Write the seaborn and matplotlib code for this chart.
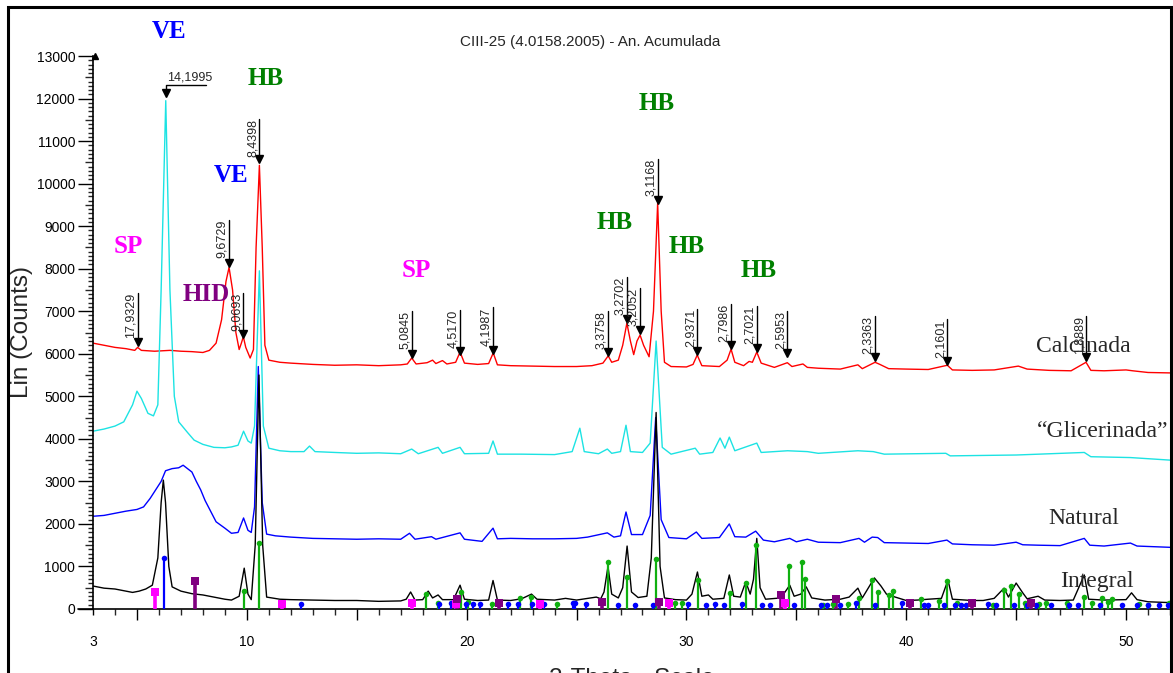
import numpy as np
import pandas as pd
import matplotlib
matplotlib.use("Agg")
import matplotlib.pyplot as plt
from matplotlib.ticker import MultipleLocator, FixedLocator, FixedFormatter
from matplotlib.patches import Rectangle
import seaborn as sns

# ---------------- data ----------------
title = "CIII-25 (4.0158.2005) - An. Acumulada"
x_label = "2-Theta - Scale"
y_label = "Lin (Counts)"

calc_x = [3.0, 3.5, 4.0, 4.5, 4.9, 5.03, 5.2, 5.8, 6.5, 7.0, 7.5, 8.0, 8.3, 8.6, 8.85, 9.05, 9.19, 9.35, 9.5, 9.65,
          9.75, 9.84, 9.95, 10.15, 10.3, 10.42, 10.57, 10.7, 10.82, 11.0, 11.5, 12.0, 13.0, 14.0, 15.0, 16.0, 17.0,
          17.3, 17.5, 17.7, 18.2, 18.45, 18.6, 18.9, 19.1, 19.5, 19.7, 19.9, 20.5, 21.0, 21.21, 21.4, 22.0, 23.0,
          24.0, 25.0, 25.7, 26.2, 26.44, 26.6, 26.9, 27.1, 27.29, 27.45, 27.6, 27.75, 27.89, 28.05, 28.3, 28.5,
          28.69, 28.85, 29.0, 29.3, 30.0, 30.3, 30.49, 30.7, 31.5, 31.85, 32.03, 32.2, 32.6, 32.85, 33.0, 33.2,
          33.4, 34.0, 34.59, 34.8, 35.3, 35.5, 36.0, 37.0, 37.8, 38.0, 38.58, 38.8, 39.2, 40.0, 41.0, 41.87, 42.1,
          43.0, 44.0, 45.1, 45.5, 46.5, 47.5, 48.18, 48.4, 49.0, 50.0, 50.3, 51.0, 52.0]
calc_y = [6250, 6200, 6150, 6120, 6080, 6150, 6080, 6060, 6080, 6060, 6050, 6030, 6080, 6250, 6800, 7700, 8030, 7500,
          6500, 6100, 6250, 6400, 6150, 5900, 6100, 8500, 10430, 8500, 6200, 5850, 5800, 5780, 5750, 5730, 5740,
          5720, 5740, 5760, 5900, 5760, 5790, 5850, 5770, 5840, 5760, 5800, 6040, 5780, 5750, 5770, 6020, 5740,
          5720, 5710, 5700, 5700, 5720, 5780, 5950, 5800, 5850, 6200, 6720, 6300, 5980, 6300, 6440, 6200, 5930,
          7000, 9540, 7000, 5800, 5700, 5690, 5750, 5970, 5720, 5700, 5850, 6110, 5800, 5720, 5820, 5800, 6040,
          5780, 5680, 5790, 5700, 5760, 5680, 5660, 5640, 5740, 5650, 5800, 5750, 5650, 5640, 5630, 5730, 5620,
          5610, 5620, 5710, 5640, 5610, 5600, 5800, 5610, 5600, 5620, 5600, 5560, 5550]

glic_x = [3.0, 3.5, 4.0, 4.4, 4.8, 5.0, 5.2, 5.5, 5.75, 5.95, 6.1, 6.31, 6.5, 6.7, 6.9, 7.3, 7.6, 8.0, 8.5, 9.0, 9.3,
          9.6, 9.85, 10.05, 10.2, 10.35, 10.57, 10.75, 11.0, 11.5, 12.0, 12.6, 12.85, 13.1, 14.0, 15.0, 16.0, 17.0,
          17.5, 17.8, 18.7, 18.9, 19.7, 19.9, 21.0, 21.2, 21.4, 22.5, 24.0, 24.8, 25.15, 25.35, 26.0, 26.4, 26.6,
          27.0, 27.25, 27.45, 28.0, 28.35, 28.62, 28.9, 29.3, 30.4, 30.6, 31.2, 31.53, 31.75, 31.95, 32.2, 33.2,
          33.4, 34.6, 35.5, 36.0, 37.8, 38.5, 39.0, 41.8, 42.0, 45.0, 48.1, 48.4, 50.2, 52.0]
glic_y = [4180, 4230, 4300, 4400, 4800, 5120, 4950, 4600, 4540, 4800, 7500, 11950, 7500, 5000, 4400, 4150, 3970, 3870,
          3800, 3790, 3810, 3850, 4180, 3950, 3900, 4300, 7950, 4300, 3780, 3720, 3700, 3700, 3830, 3700, 3680,
          3660, 3670, 3650, 3760, 3650, 3800, 3660, 3800, 3650, 3660, 3950, 3640, 3640, 3630, 3700, 4250, 3700,
          3650, 3760, 3660, 3700, 4320, 3700, 3680, 3900, 6300, 3800, 3640, 3780, 3640, 3680, 4020, 3780, 4040,
          3720, 3900, 3680, 3720, 3700, 3660, 3720, 3700, 3640, 3660, 3600, 3620, 3680, 3580, 3560, 3500]

nat_x = [3.0, 3.5, 4.0, 4.5, 5.0, 5.3, 5.6, 5.85, 6.1, 6.3, 6.6, 6.9, 7.1, 7.3, 7.5, 7.7, 7.9, 8.1, 8.3, 8.6, 9.0,
         9.3, 9.6, 9.85, 10.05, 10.2, 10.35, 10.52, 10.7, 10.9, 11.3, 12.0, 13.0, 14.0, 15.0, 16.0, 17.0, 17.4,
         17.65, 18.4, 18.6, 19.7, 19.9, 20.7, 21.2, 21.4, 22.0, 23.0, 24.0, 25.0, 25.5, 26.4, 26.7, 27.0, 27.25,
         27.5, 28.0, 28.35, 28.6, 28.85, 29.2, 30.0, 30.45, 30.7, 31.5, 31.95, 32.2, 32.7, 33.15, 33.5, 34.0,
         34.7, 35.0, 35.5, 36.0, 37.0, 37.85, 38.1, 38.45, 38.7, 39.0, 40.0, 41.0, 41.85, 42.1, 43.0, 44.0, 45.0,
         45.3, 46.0, 47.0, 48.1, 48.35, 49.0, 50.2, 50.5, 51.0, 52.0]
nat_y = [2180, 2200, 2250, 2300, 2340, 2400, 2600, 2800, 3000, 3250, 3300, 3320, 3380, 3300, 3220, 3000, 2800, 2550,
         2350, 2050, 1900, 1780, 1800, 2140, 1850, 1800, 2400, 5700, 2500, 1760, 1720, 1690, 1660, 1650, 1640,
         1650, 1640, 1780, 1640, 1700, 1640, 1790, 1640, 1590, 1900, 1650, 1660, 1650, 1650, 1660, 1690, 1790,
         1690, 1720, 2280, 1750, 1750, 2200, 4500, 2100, 1680, 1650, 1810, 1660, 1680, 2000, 1700, 1690, 1830,
         1620, 1580, 1660, 1580, 1640, 1570, 1560, 1660, 1570, 1690, 1680, 1560, 1550, 1540, 1620, 1530, 1510,
         1500, 1570, 1510, 1500, 1490, 1660, 1500, 1480, 1550, 1480, 1470, 1450]

int_x = [3.0, 3.5, 4.0, 4.5, 4.8, 5.1, 5.4, 5.7, 5.95, 6.1, 6.2, 6.3, 6.45, 6.6, 7.0, 7.5, 8.0, 8.5, 9.0, 9.3, 9.65,
         9.88, 10.05, 10.2, 10.38, 10.55, 10.72, 10.9, 11.5, 12.0, 13.0, 14.0, 15.0, 16.0, 17.0, 17.25, 17.45,
         17.65, 18.0, 18.25, 18.45, 18.7, 18.9, 19.4, 19.7, 19.9, 20.5, 21.0, 21.2, 21.4, 22.0, 22.5, 22.95, 23.2,
         24.0, 24.5, 25.0, 25.9, 26.1, 26.25, 26.43, 26.6, 26.9, 27.1, 27.3, 27.5, 27.8, 28.2, 28.4, 28.62, 28.8,
         29.0, 29.5, 30.0, 30.25, 30.5, 30.7, 31.0, 31.2, 31.7, 31.95, 32.15, 32.45, 32.7, 32.9, 33.05, 33.2,
         33.35, 33.6, 34.3, 34.7, 34.9, 35.2, 35.45, 35.7, 36.3, 37.0, 37.4, 37.8, 38.0, 38.4, 38.55, 38.85, 39.1,
         39.5, 40.0, 40.5, 41.0, 41.6, 41.9, 42.1, 43.0, 43.5, 44.0, 44.45, 44.65, 45.0, 45.3, 45.5, 46.0, 46.3,
         47.0, 47.6, 48.1, 48.3, 49.0, 50.0, 50.25, 50.5, 51.0, 52.0]
int_y = [540, 490, 470, 420, 390, 420, 470, 560, 1200, 2500, 3030, 2500, 1000, 520, 420, 360, 330, 280, 230, 210,
         300, 960, 350, 220, 1500, 5500, 1500, 280, 230, 220, 210, 200, 200, 180, 190, 230, 400, 210, 220, 420,
         260, 330, 220, 220, 560, 230, 200, 210, 670, 210, 200, 240, 350, 230, 210, 250, 210, 280, 240, 400, 1000,
         350, 260, 500, 1480, 400, 270, 300, 1200, 4620, 1000, 260, 220, 210, 350, 870, 300, 330, 230, 250, 800,
         300, 280, 640, 350, 700, 1660, 500, 230, 260, 560, 300, 350, 520, 260, 210, 230, 280, 490, 260, 600, 730,
         540, 350, 280, 200, 210, 230, 250, 680, 230, 200, 200, 250, 490, 280, 610, 380, 240, 300, 210, 200, 210,
         800, 230, 210, 220, 380, 220, 170, 150]

series_names = ["Calcinada", "Glicerinada", "Natural", "Integral"]
series_colors = ["#FF0000", "#1CE3E3", "#0000FF", "#000000"]

# reference-pattern sticks
sp_x = [5.80, 11.58, 17.50, 19.50, 23.35, 29.20, 34.48]
sp_h = [410, 120, 130, 110, 110, 130, 130]
hid_x = [7.62, 19.58, 21.48, 26.18, 28.75, 34.32, 36.82, 40.17, 42.98, 45.68]
hid_h = [665, 240, 130, 160, 160, 330, 240, 130, 130, 130]
ve_x = [6.25, 12.48, 18.72, 19.28, 19.48, 19.98, 20.28, 20.6, 21.9, 22.33, 22.98, 23.52, 24.83, 24.95, 25.45,
        26.9, 27.68, 28.46, 30.06, 30.87, 31.3, 31.7, 32.54, 33.42, 33.8, 34.9, 36.12, 36.4, 37.0, 37.7, 38.6,
        39.8, 40.8, 41.0, 41.7, 42.2, 42.5, 42.7, 43.7, 44.1, 44.9, 45.5, 45.9, 46.6, 47.4, 47.8, 48.8, 49.8,
        50.5, 51.0, 51.5, 51.9]
ve_h = [1200, 120, 120, 130, 130, 120, 120, 120, 120, 120, 120, 120, 130, 150, 110, 100, 100, 100, 110, 100, 120,
        100, 110, 100, 100, 100, 100, 100, 100, 130, 100, 130, 100, 100, 100, 100, 100, 100, 110, 100, 100, 100,
        100, 100, 100, 100, 100, 100, 100, 100, 100, 100]
hb_x = [9.88, 10.55, 18.17, 18.7, 19.75, 20.05, 21.17, 22.42, 22.95, 24.13, 26.43, 27.3, 28.63, 29.47, 29.8, 30.53,
        31.96, 32.72, 33.16, 34.67, 35.26, 35.4, 36.22, 36.65, 37.33, 37.85, 38.45, 38.72, 39.22, 39.4, 40.68,
        41.5, 41.87, 42.32, 43.96, 44.46, 44.78, 45.12, 45.42, 46.03, 46.37, 47.32, 48.1, 48.45, 48.9, 49.2,
        49.37, 50.6, 51.0, 51.95]
hb_h = [420, 1550, 350, 150, 400, 160, 120, 260, 290, 110, 1100, 750, 1170, 130, 130, 680, 370, 610, 1500, 1010,
        1110, 700, 100, 110, 120, 260, 680, 390, 330, 430, 240, 180, 650, 130, 100, 450, 550, 350, 150, 120, 130,
        130, 280, 150, 260, 170, 230, 120, 100, 130]

# d-spacing annotations on the Calcinada pattern
peak_labels = ["17,9329", "9,6729", "9,0693", "8,4398", "5,0845", "4,5170", "4,1987", "3,3758", "3,2702",
               "3,2052", "3,1168", "2,9371", "2,7986", "2,7021", "2,5953", "2,3363", "2,1601", "1,8889"]
peak_x = [5.03, 9.19, 9.84, 10.57, 17.50, 19.70, 21.21, 26.44, 27.29, 27.89, 28.69, 30.49, 32.03, 33.20, 34.59,
          38.58, 41.87, 48.18]
peak_tip = [6170, 8050, 6370, 10490, 5910, 5970, 6000, 5950, 6730, 6470, 9530, 5970, 6110, 6050, 5930, 5830,
            5740, 5820]
peak_top = [7440, 9150, 7440, 11520, 7010, 7030, 7090, 7010, 7800, 7540, 10580, 7060, 7170, 7130, 7010, 6890,
            6810, 6890]
ve_peak_label = "14,1995"
ve_peak_x = 6.31
ve_peak_tip = 12040
ve_peak_top = 12320
ve_peak_end = 8.14

# phase labels
phase_text = ["VE", "HB", "VE", "SP", "HID", "SP", "HB", "HB", "HB", "HB"]
phase_x = [6.46, 10.87, 9.26, 4.59, 8.14, 17.73, 28.65, 26.75, 30.01, 33.30]
phase_y = [13572, 12460, 10187, 8511, 7382, 7954, 11889, 9075, 8518, 7954]
phase_color = ["#0000FF", "#008000", "#0000FF", "#FF00FF", "#800080", "#FF00FF", "#008000", "#008000",
               "#008000", "#008000"]

# sample labels
sample_text = ["Calcinada", "\u201cGlicerinada\u201d", "Natural", "Integral"]
sample_x = [48.04, 48.95, 48.09, 48.68]
sample_y = [6167, 4168, 2139, 635]

x_ticks = [3, 5, 10, 15, 20, 25, 30, 35, 40, 45, 50]
x_tick_labels = ["3", "", "10", "", "20", "", "30", "", "40", "", "50"]

# ---------------- drawing ----------------
sns.set_style("ticks")
plt.rcParams['font.family'] = ['Liberation Sans', 'DejaVu Sans']

W, H = 1173, 673
fig = plt.figure(figsize=(W / 100, H / 100), dpi=100)
fig.patch.set_facecolor("white")
ax = fig.add_axes([93 / W, 1 - 609 / H, (1170 - 93) / W, (609 - 56) / H])
ax.set_facecolor("white")

frames = []
for name, xs, ys in zip(series_names, [calc_x, glic_x, nat_x, int_x], [calc_y, glic_y, nat_y, int_y]):
    frames.append(pd.DataFrame({"two_theta": xs, "counts": ys, "sample": name}))
df = pd.concat(frames, ignore_index=True)
sns.lineplot(data=df, x="two_theta", y="counts", hue="sample", hue_order=series_names,
             palette=dict(zip(series_names, series_colors)), sort=False, estimator=None,
             linewidth=1.0, legend=False, ax=ax)

stick_sets = [
    (hb_x, hb_h, "#10B010", "o", 1.6, 16),
    (ve_x, ve_h, "#0000FF", "o", 1.6, 16),
    (sp_x, sp_h, "#FF00FF", "s", 2.6, 26),
    (hid_x, hid_h, "#800080", "s", 2.6, 26),
]
for xs, hs, col, mk, lw, s in stick_sets:
    ax.vlines(xs, 0, hs, colors=col, linewidth=lw, zorder=5)
    ax.scatter(xs, hs, marker=mk, s=s, color=col, linewidths=0, zorder=6)

# d-spacing arrows
for lab, x, tip, top in zip(peak_labels, peak_x, peak_tip, peak_top):
    ax.plot([x, x], [tip + 100, top], color="black", lw=1.0, zorder=8, clip_on=False)
    ax.plot([x], [tip + 95], marker="v", color="black", ms=6, zorder=8, clip_on=False)
    ax.text(x - 0.04, top, lab, rotation=90, ha="right", va="top", fontsize=9, zorder=8)

ax.plot([ve_peak_x, ve_peak_x, ve_peak_end], [ve_peak_tip + 100, ve_peak_top, ve_peak_top],
        color="black", lw=1.0, zorder=8, clip_on=False)
ax.plot([ve_peak_x], [ve_peak_tip + 95], marker="v", color="black", ms=6, zorder=8, clip_on=False)
ax.text(ve_peak_x + 0.06, ve_peak_top + 40, ve_peak_label, ha="left", va="bottom", fontsize=9, zorder=8)

for t, x, y, c in zip(phase_text, phase_x, phase_y, phase_color):
    ax.text(x, y, t, color=c, ha="center", va="center", fontsize=18, fontweight="bold",
            family=["Liberation Serif", "DejaVu Serif"], clip_on=False, zorder=9)

for t, x, y in zip(sample_text, sample_x, sample_y):
    ax.text(x, y, t, ha="center", va="center", fontsize=17, family=["Liberation Serif", "DejaVu Serif"],
            zorder=9)

# axes styling
ax.set_xlim(3, 52)
ax.set_ylim(0, 13000)
for sp in ["top", "right"]:
    ax.spines[sp].set_visible(False)
for sp in ["left", "bottom"]:
    ax.spines[sp].set_linewidth(1.2)
    ax.spines[sp].set_color("black")

ax.xaxis.set_major_locator(FixedLocator(x_ticks))
ax.xaxis.set_major_formatter(FixedFormatter(x_tick_labels))
ax.xaxis.set_minor_locator(MultipleLocator(1))
ax.yaxis.set_major_locator(MultipleLocator(1000))
ax.yaxis.set_minor_locator(MultipleLocator(100))
ax.tick_params(axis="x", which="major", length=8, width=1, direction="out", labelsize=10, pad=11,
               colors="black")
ax.tick_params(axis="x", which="minor", length=4.3, width=1, direction="out")
ax.tick_params(axis="y", which="major", length=10.8, width=1, direction="out", labelsize=10, pad=2,
               colors="black")
ax.tick_params(axis="y", which="minor", length=3.6, width=1, direction="out")

ax.xaxis.get_major_ticks()[0].tick1line.set_markersize(4.3)
ylocs = ax.yaxis.get_minorticklocs()
for tk, loc in zip(ax.yaxis.get_minor_ticks(len(ylocs)), ylocs):
    if abs(loc % 1000 - 500) < 1:
        tk.tick1line.set_markersize(6)

# x-axis line extends a little to the left of the y axis; small arrow on top of y axis
ax.plot([-15 / 1077, 0], [0, 0], transform=ax.get_yaxis_transform(), color="black", lw=1.2, clip_on=False)
ax.plot([0.002], [13000], transform=ax.get_yaxis_transform(), marker="^", ms=4, color="black", clip_on=False)

ax.set_xlabel(x_label, fontsize=17.5)
ax.set_ylabel(y_label, fontsize=17.5)
ax.xaxis.set_label_coords(0.5, -0.107)
ax.yaxis.set_label_coords(-0.056, 0.5)

fig.text(590 / W, 1 - 42 / H, title, ha="center", va="center", fontsize=11)

fig.patches.append(Rectangle((8 / W, -0.1), (1171 - 8) / W, 1 - 7 / H + 0.1, transform=fig.transFigure,
                             fill=False, edgecolor="black", linewidth=2.2, zorder=10))

fig.savefig("out.png", dpi=100, facecolor="white")
